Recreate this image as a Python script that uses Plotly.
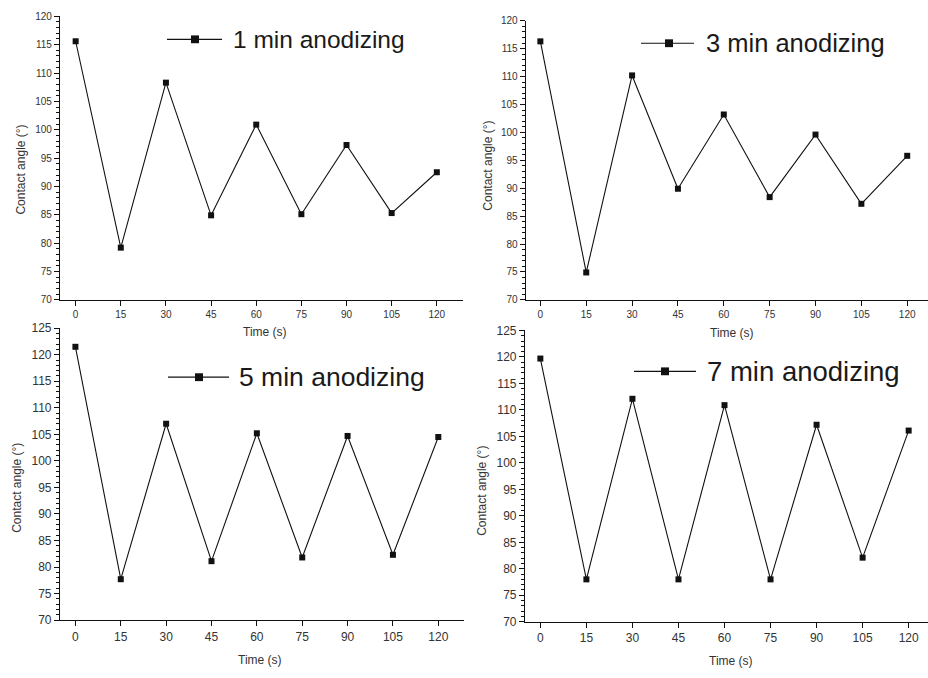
import plotly.graph_objects as go

# Contact angle measured every 15 s for four anodizing durations
time_s = [0, 15, 30, 45, 60, 75, 90, 105, 120]
angle_1min = [115.6, 79.2, 108.3, 84.9, 100.9, 85.1, 97.3, 85.3, 92.5]
angle_3min = [116.3, 74.9, 110.2, 89.9, 103.2, 88.4, 99.6, 87.2, 95.8]
angle_5min = [121.5, 77.7, 107.0, 81.1, 105.2, 81.8, 104.7, 82.3, 104.5]
angle_7min = [119.7, 78.0, 112.1, 78.0, 110.9, 78.0, 107.2, 82.1, 106.1]
series_names = ["1 min anodizing", "3 min anodizing", "5 min anodizing", "7 min anodizing"]
x_tick_vals = [0, 15, 30, 45, 60, 75, 90, 105, 120]

W, H = 928, 678
FONT = "Liberation Sans, Arial, sans-serif"
INK = "#111111"
TXT = "#333333"

def px(x):
    return x / W

def py(y):
    return 1 - y / H

# per panel: data, x domain (px), y domain (px, top/bottom), x range, y range, tick font size,
# legend geometry (line x0, x1, marker x, text x, centre y, font size), axis title positions
panels = [
    dict(y=angle_1min, xd=(60, 463), yd=(9.5, 299), xr=(-5.2, 128.7), yr=(70, 120), fs=10,
         leg=(167, 222, 195, 231, 33, 24.5), xt=(265, 332), yt=(21, 166)),
    dict(y=angle_3min, xd=(525.7, 928), yd=(14, 299), xr=(-4.8, 126.8), yr=(70, 120), fs=10,
         leg=(641, 694, 669, 704, 37, 25.5), xt=(732, 333), yt=(488, 162)),
    dict(y=angle_5min, xd=(60, 464), yd=(328, 626), xr=(-5.1, 128.5), yr=(70, 125), fs=12,
         leg=(168, 229, 199, 237, 378, 26.5), xt=(260, 667), yt=(17, 491)),
    dict(y=angle_7min, xd=(525, 928), yd=(330.3, 627.7), xr=(-5.0, 126.3), yr=(70, 125), fs=12,
         leg=(634, 696, 665, 705, 372, 27.5), xt=(731, 668), yt=(482, 494)),
]

fig = go.Figure()
shapes = []
annotations = []

for i, (p, name) in enumerate(zip(panels, series_names), start=1):
    xa = "x" if i == 1 else f"x{i}"
    ya = "y" if i == 1 else f"y{i}"
    fig.add_trace(go.Scatter(
        x=time_s, y=p["y"], mode="lines+markers", name=name,
        xaxis=xa, yaxis=ya, showlegend=False, cliponaxis=False,
        line=dict(color=INK, width=1.1),
        marker=dict(symbol="square", size=6, color=INK),
    ))
    xkey = "xaxis" if i == 1 else f"xaxis{i}"
    ykey = "yaxis" if i == 1 else f"yaxis{i}"
    fig.layout[xkey] = dict(
        domain=[px(p["xd"][0]), px(p["xd"][1])], range=list(p["xr"]),
        anchor=ya, tickmode="array", tickvals=x_tick_vals,
        showgrid=False, zeroline=False, showline=True, linecolor=INK, linewidth=1.2,
        ticks="outside", ticklen=5, tickwidth=1.2, tickcolor=INK,
        tickfont=dict(family=FONT, size=p["fs"], color=TXT),
    )
    top = p["yr"][1]
    fig.layout[ykey] = dict(
        domain=[py(p["yd"][1]), py(p["yd"][0])], range=list(p["yr"]),
        anchor=xa, tickmode="array", tickvals=list(range(70, top + 1, 5)),
        showgrid=False, zeroline=False, showline=True, linecolor=INK, linewidth=1.2,
        ticks="outside", ticklen=5, tickwidth=1.2, tickcolor=INK,
        minor=dict(ticks="outside", ticklen=3, tickwidth=1, tickcolor=INK, dtick=1,
                   tick0=70, showgrid=False),
        tickfont=dict(family=FONT, size=p["fs"], color=TXT),
    )

    # legend sample: line, square marker and series label
    lx0, lx1, mx, tx, ly, lfs = p["leg"]
    shapes.append(dict(type="line", xref="paper", yref="paper",
                       x0=px(lx0), x1=px(lx1), y0=py(ly), y1=py(ly),
                       line=dict(color=INK, width=1.2)))
    shapes.append(dict(type="rect", xref="paper", yref="paper",
                       x0=px(mx - 4), x1=px(mx + 4), y0=py(ly - 4), y1=py(ly + 4),
                       fillcolor=INK, line=dict(width=0)))
    annotations.append(dict(text=name, xref="paper", yref="paper",
                            x=px(tx), y=py(ly), xanchor="left", yanchor="middle",
                            showarrow=False, font=dict(family=FONT, size=lfs, color="#1a1a1a")))

    # axis titles
    annotations.append(dict(text="Time (s)", xref="paper", yref="paper",
                            x=px(p["xt"][0]), y=py(p["xt"][1]), xanchor="center", yanchor="middle",
                            showarrow=False, font=dict(family=FONT, size=12, color=TXT)))
    annotations.append(dict(text="Contact angle (°)", xref="paper", yref="paper",
                            x=px(p["yt"][0]), y=py(p["yt"][1]), xanchor="center", yanchor="middle",
                            textangle=-90, showarrow=False,
                            font=dict(family=FONT, size=12, color=TXT)))

fig.update_layout(
    width=W, height=H, margin=dict(l=0, r=0, t=0, b=0),
    paper_bgcolor="white", plot_bgcolor="white",
    shapes=shapes, annotations=annotations, showlegend=False,
)

fig.write_html("out.html")
